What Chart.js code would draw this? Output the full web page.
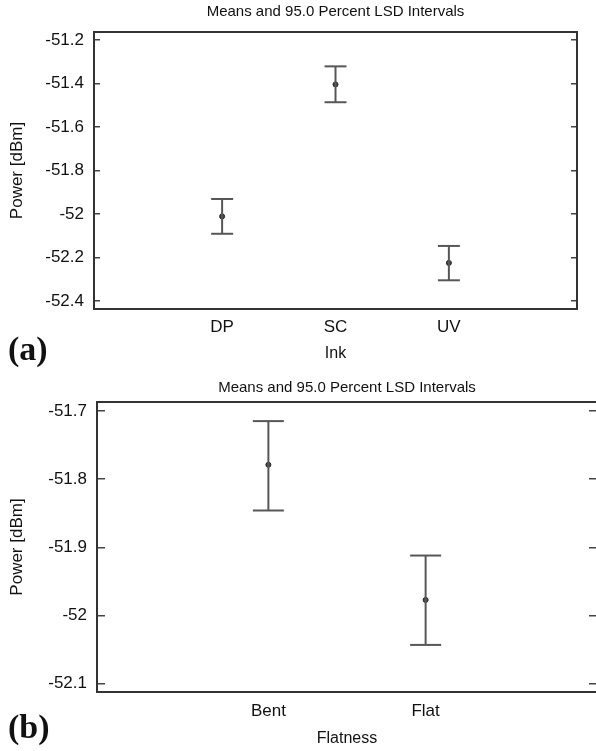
<!DOCTYPE html>
<html>
<head>
<meta charset="utf-8">
<script src="https://cdn.jsdelivr.net/npm/chart.js@4.4.1/dist/chart.umd.min.js"></script>
<style>
    html, body { margin: 0; padding: 0; background: #fff; overflow: hidden; }
    body { width: 596px; height: 751px; position: relative; }
    canvas { position: absolute; left: 0; }
    .panel-label {
        position: absolute;
        left: 8px;
        font-family: 'Liberation Serif', 'Times New Roman', serif;
        font-weight: bold;
        font-size: 34px;
        color: #111;
        line-height: 1;
    }
</style>
</head>
<body>
<canvas id="chartInk" width="596" height="372" style="top:0"></canvas>
<canvas id="chartFlat" width="600" height="379" style="top:372px"></canvas>
<div class="panel-label" style="top:332px">(a)</div>
<div class="panel-label" style="top:710px">(b)</div>

<script>
// Datos (a): tinta
const inkCats = ['DP', 'SC', 'UV'];
const inkMeans = [-52.011, -51.404, -52.225];
const inkLower = [-52.091, -51.486, -52.305];
const inkUpper = [-51.931, -51.321, -52.147];
const inkTicks = [-52.4, -52.2, -52, -51.8, -51.6, -51.4, -51.2];

// Datos (b): planitud
const flatCats = ['Bent', 'Flat'];
const flatMeans = [-51.779, -51.977];
const flatLower = [-51.846, -52.043];
const flatUpper = [-51.715, -51.912];
const flatTicks = [-52.1, -52, -51.9, -51.8, -51.7];

const FONT = "'Liberation Sans', Arial, sans-serif";
const TEXT = '#111';
const BORDER = '#333';
const BAR = '#575757';

Chart.defaults.font.family = FONT;
Chart.defaults.color = TEXT;

// Construir un gráfico de medias con intervalos LSD
function crearGrafico(id, cfg) {
    const ctx = document.getElementById(id);

    // un dataset por intervalo: linea vertical + topes horizontales
    const intervalos = cfg.cats.map((c, i) => ({
        data: [{x: i + 1, y: cfg.lower[i]}, {x: i + 1, y: cfg.upper[i]}],
        showLine: true,
        borderColor: BAR,
        borderWidth: 2,
        pointStyle: 'line',
        pointRadius: cfg.cap,
        pointBorderWidth: 2,
        pointBorderColor: BAR
    }));

    const medias = {
        data: cfg.means.map((m, i) => ({x: i + 1, y: m})),
        showLine: false,
        pointStyle: 'circle',
        pointRadius: 2.5,
        pointBorderWidth: 1,
        pointBackgroundColor: '#444',
        pointBorderColor: '#222'
    };

    const ticksY = s => { s.ticks = cfg.yTicks.map(v => ({value: v})); };
    const ticksX = s => { s.ticks = cfg.cats.map((c, i) => ({value: i + 1})); };

    // alto fijo del eje x, sin relleno lateral por las etiquetas
    const fitX = h => s => { s.height = h; s.paddingLeft = 0; s.paddingRight = 0; };

    return new Chart(ctx, {
        type: 'scatter',
        data: { datasets: [...intervalos, medias] },
        options: {
            responsive: false,
            animation: false,
            devicePixelRatio: 1,
            layout: { padding: 0, autoPadding: false },
            plugins: {
                legend: { display: false },
                tooltip: { enabled: false },
                title: {
                    display: true,
                    text: 'Means and 95.0 Percent LSD Intervals',
                    fullSize: false,
                    color: TEXT,
                    font: { size: 15, weight: 'normal', family: FONT },
                    padding: cfg.titlePad
                }
            },
            scales: {
                x: {
                    type: 'linear',
                    position: 'bottom',
                    min: cfg.xMin,
                    max: cfg.xMax,
                    afterBuildTicks: ticksX,
                    afterFit: fitX(cfg.xHeight),
                    grid: { display: false, drawTicks: false },
                    border: { display: true, color: BORDER, width: 2 },
                    ticks: {
                        padding: cfg.xTickPad,
                        font: { size: 17 },
                        color: TEXT,
                        callback: v => cfg.cats[v - 1]
                    },
                    title: {
                        display: true,
                        text: cfg.xTitle,
                        font: { size: 16 },
                        color: TEXT,
                        padding: { top: 0, bottom: cfg.xTitlePad }
                    }
                },
                xTop: {
                    type: 'linear',
                    position: 'top',
                    min: cfg.xMin,
                    max: cfg.xMax,
                    afterBuildTicks: ticksX,
                    afterFit: fitX(0),
                    grid: { display: false, drawTicks: false },
                    border: { display: true, color: BORDER, width: 2 },
                    ticks: { display: false }
                },
                y: {
                    type: 'linear',
                    position: 'left',
                    min: cfg.yMin,
                    max: cfg.yMax,
                    afterBuildTicks: ticksY,
                    afterFit: s => { s.width = cfg.left; },
                    grid: {
                        drawOnChartArea: false,
                        drawTicks: true,
                        tickLength: -cfg.tickLen,
                        color: '#444',
                        lineWidth: 1.5
                    },
                    border: { display: true, color: BORDER, width: 2 },
                    ticks: {
                        padding: 10 + cfg.tickLen,
                        font: { size: 17 },
                        color: TEXT,
                        callback: v => String(v)
                    },
                    title: {
                        display: true,
                        text: 'Power [dBm]',
                        font: { size: 17 },
                        color: TEXT,
                        padding: { top: 7, bottom: 0 }
                    }
                },
                yRight: {
                    type: 'linear',
                    position: 'right',
                    min: cfg.yMin,
                    max: cfg.yMax,
                    afterBuildTicks: ticksY,
                    afterFit: s => { s.width = cfg.right; },
                    grid: {
                        drawOnChartArea: false,
                        drawTicks: true,
                        tickLength: -cfg.tickLen,
                        color: '#444',
                        lineWidth: 1.5
                    },
                    border: { display: true, color: BORDER, width: 2 },
                    ticks: { display: false }
                }
            }
        }
    });
}

document.addEventListener('DOMContentLoaded', function() {
    crearGrafico('chartInk', {
        cats: inkCats, means: inkMeans, lower: inkLower, upper: inkUpper,
        yTicks: inkTicks, yMin: -52.437, yMax: -51.163,
        xMin: -0.13, xMax: 4.13,
        xTitle: 'Ink',
        cap: 11, tickLen: 6,
        left: 94, right: 19, xHeight: 63,
        titlePad: { top: 3, bottom: 11 },
        xTickPad: 8, xTitlePad: 9
    });

    crearGrafico('chartFlat', {
        cats: flatCats, means: flatMeans, lower: flatLower, upper: flatUpper,
        yTicks: flatTicks, yMin: -52.112, yMax: -51.687,
        xMin: -0.09, xMax: 3.09,
        xTitle: 'Flatness',
        cap: 15.5, tickLen: 8,
        left: 97, right: 3, xHeight: 59,
        titlePad: { top: 7, bottom: 5 },
        xTickPad: 9, xTitlePad: 3
    });
});
</script>
</body>
</html>
